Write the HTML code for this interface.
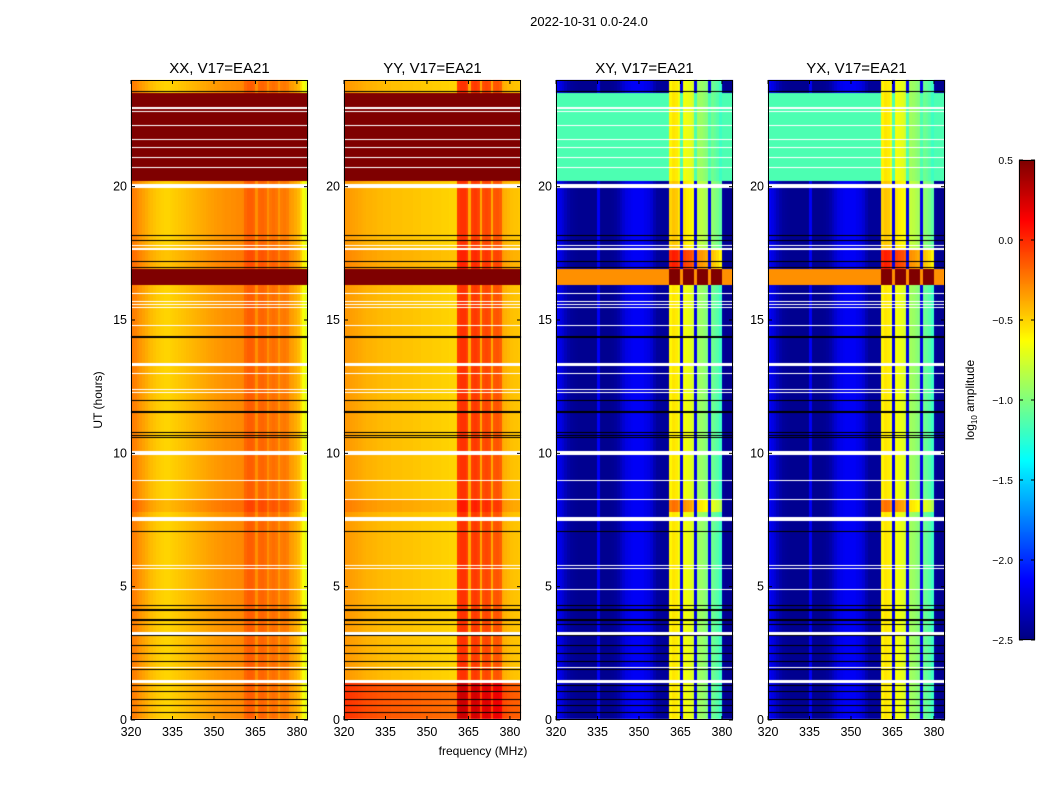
<!DOCTYPE html>
<html><head><meta charset="utf-8">
<style>
body{margin:0;background:#fff;width:1050px;height:800px;overflow:hidden;position:relative;font-family:"Liberation Sans","DejaVu Sans",sans-serif;}
canvas{position:absolute;}
svg{position:absolute;left:0;top:0;}
</style></head>
<body>
<canvas id="cv" width="1050" height="800" style="left:0;top:0"></canvas>
<svg id="ov" width="1050" height="800"></svg>
<script>
// ---- data arrays ----
const panelTitles = ["XX, V17=EA21","YY, V17=EA21","XY, V17=EA21","YX, V17=EA21"];
const xTicks = [320,335,350,365,380];
const yTicks = [0,5,10,15,20];
const cbTicks = [0.5,0.0,-0.5,-1.0,-1.5,-2.0,-2.5];
// frequency profiles (log10 amplitude), 1 MHz channels from 320 to 383
const xxFreq = [-0.24,-0.26,-0.29,-0.32,-0.35,-0.38,-0.41,-0.43,-0.45,-0.47,-0.48,-0.49,-0.5,-0.5,-0.49,-0.48,-0.47,-0.46,-0.45,-0.44,-0.43,-0.42,-0.41,-0.4,-0.39,-0.38,-0.37,-0.36,-0.35,-0.34,-0.33,-0.32,-0.32,-0.31,-0.3,-0.3,-0.29,-0.29,-0.28,-0.28,-0.27,-0.18,-0.15,-0.15,-0.17,-0.3,-0.18,-0.17,-0.19,-0.3,-0.22,-0.2,-0.22,-0.32,-0.24,-0.23,-0.25,-0.32,-0.34,-0.38,-0.42,-0.52,-0.64,-0.72];
const yyFreq = [-0.32,-0.33,-0.34,-0.35,-0.36,-0.37,-0.38,-0.39,-0.4,-0.4,-0.41,-0.41,-0.42,-0.42,-0.43,-0.43,-0.43,-0.44,-0.44,-0.44,-0.44,-0.45,-0.45,-0.45,-0.45,-0.46,-0.46,-0.46,-0.47,-0.47,-0.47,-0.47,-0.48,-0.48,-0.48,-0.49,-0.49,-0.49,-0.5,-0.5,-0.5,-0.05,-0.02,-0.02,-0.06,-0.38,-0.06,-0.04,-0.07,-0.38,-0.1,-0.08,-0.1,-0.38,-0.13,-0.12,-0.15,-0.38,-0.4,-0.42,-0.44,-0.45,-0.45,-0.46];
const crossFreq = [-2.15,-2.2,-2.25,-2.32,-2.38,-2.42,-2.43,-2.44,-2.45,-2.45,-2.45,-2.45,-2.45,-2.45,-2.45,-2.15,-2.45,-2.45,-2.45,-2.45,-2.44,-2.42,-2.38,-2.32,-2.26,-2.2,-2.18,-2.16,-2.15,-2.15,-2.15,-2.15,-2.18,-2.2,-2.25,-2.35,-2.42,-2.42,-2.42,-2.42,-2.42,-0.6,-0.55,-0.57,-0.65,-2.2,-0.65,-0.68,-0.7,-0.75,-2.2,-0.9,-0.92,-0.95,-0.98,-2.2,-1.05,-1.08,-1.12,-1.2,-2.42,-2.45,-2.45,-2.45];
// time segments
const timeSegStart = [0,1.5,7.8,8.3,16.3,16.9,17.7,20.2,23.5];
const timeSegEnd   = [1.5,7.8,8.3,16.3,16.9,17.7,20.2,23.5,24];
const parOffset    = [0.0,0.0,0.08,0.0,1.5,0.05,0.0,1.5,0.0];
const yyEarly      = [0.3,0.0,0.0,0.0,0.0,0.0,0.0,0.0,0.0];
const crossOffset  = [0.0,0.0,0.35,0.0,2.0,0.6,0.1,0.0,0.0];
const crossBg      = [-9,-9,-9,-9,-0.3,-9,-9,-1.15,-9];
const whiteRows = [23.0,22.85,22.3,21.8,21.5,21.1,20.75,20.1,17.8,17.7,16.0,15.7,15.6,15.5,14.8,13.4,13.0,12.4,12.3,10.1,9.0,8.3,7.6,7.5,5.8,5.7,4.9,3.3,2.0,1.5,0.05];
const whiteThick = [1,0,0,0,0,0,0,3,0,1,0,0,0,0,0,2,0,0,0,3,0,0,2,0,0,0,0,2,0,2,0];
const blackRows = [23.6,18.2,18.0,17.2,17.0,14.4,12.0,11.6,10.8,10.7,10.6,7.1,4.3,4.15,3.8,3.6,3.2,2.8,2.5,2.2,1.9,1.3,1.1,0.8,0.55,0.3];
const blackThick = [1,1,1,1,1,2,1,2,1,1,1,1,1,2,2,1,1,1,1,1,1,1,1,1,1,1];

// ---- geometry ----
const panelLeft=[131,344,556,768], PW=177, PT=80, PB=720;
const F0=320, F1=384, H0=0, H1=24;
const xs=(f,p)=>panelLeft[p]+(f-F0)/(F1-F0)*PW;
const ys=h=>PB-(h-H0)/(H1-H0)*(PB-PT);
const VMIN=-2.5,VMAX=0.5;
function jet(v){let t=(v-VMIN)/(VMAX-VMIN);t=Math.max(0,Math.min(1,t));
 const c=x=>Math.max(0,Math.min(1,x));
 const r=c(1.5-Math.abs(4*t-3)),g=c(1.5-Math.abs(4*t-2)),b=c(1.5-Math.abs(4*t-1));
 return [r*255|0,g*255|0,b*255|0];}
function seg(h){for(let i=0;i<timeSegStart.length;i++)if(h>=timeSegStart[i]&&h<timeSegEnd[i])return i;return timeSegStart.length-1;}

const cv=document.getElementById('cv'),ctx=cv.getContext('2d');
const img=ctx.createImageData(1050,800);
for(let p=0;p<4;p++){
 for(let py=PT;py<PB;py++){
  const h=H1-(py-PT+0.5)/(PB-PT)*(H1-H0); const s=seg(h);
  for(let px=panelLeft[p];px<panelLeft[p]+PW;px++){
   const f=F0+(px-panelLeft[p]+0.5)/PW*(F1-F0); const ch=Math.min(63,Math.floor(f-F0));
   let v;
   if(p<2){const base=p==0?xxFreq[ch]:yyFreq[ch]; v=base+parOffset[s]+(p==1?yyEarly[s]:0);}
   else{const base=crossFreq[ch]; const inBand=base>-1.5;
     if(inBand) v=base+crossOffset[s]; else v=Math.max(base,crossBg[s]);
     if(crossBg[s]>-2&&!inBand&&s==4) v=crossBg[s];}
   const [r,g,b]=jet(v); const k=(py*1050+px)*4;
   img.data[k]=r;img.data[k+1]=g;img.data[k+2]=b;img.data[k+3]=255;}
 }}
ctx.putImageData(img,0,0);
for(let p=0;p<4;p++){
 ctx.fillStyle='#fff';
 whiteRows.forEach((h,i)=>{ctx.fillRect(panelLeft[p],Math.round(ys(h)),PW,1+whiteThick[i]);});
 ctx.fillStyle='#000';
 blackRows.forEach((h,i)=>{ctx.fillRect(panelLeft[p],Math.round(ys(h)),PW,blackThick[i]);});
}
for(let y=160;y<640;y++){const v=VMAX-(y-160)/480*(VMAX-VMIN);const [r,g,b]=jet(v);ctx.fillStyle=`rgb(${r},${g},${b})`;ctx.fillRect(1019,y,16,1);}

// ---- overlay ----
const NS='http://www.w3.org/2000/svg',ov=document.getElementById('ov');
function el(tag,attrs,parent){const e=document.createElementNS(NS,tag);for(const k in attrs)e.setAttribute(k,attrs[k]);(parent||ov).appendChild(e);return e;}
function txt(x,y,s,anchor,size,parent){const t=el('text',{x:x,y:y,'text-anchor':anchor,'font-size':size,fill:'#000','font-family':'Liberation Sans, DejaVu Sans, sans-serif'},parent);t.textContent=s;return t;}
const title=txt(589,26,"2022-10-31 0.0-24.0","middle",13);


for(let p=0;p<4;p++){
 const g=el('g',{});
 
 
 el('rect',{x:panelLeft[p]+0.5,y:PT+0.5,width:PW-1,height:PB-PT-1,fill:'none',stroke:'#000','stroke-width':1},g);
 const t=txt(panelLeft[p]+PW/2,73,panelTitles[p],"middle",15,g);
 
 
 xTicks.forEach(f=>{const x=xs(f,p);
  el('line',{x1:x,x2:x,y1:PB,y2:PB-4,stroke:'#000'},g);el('line',{x1:x,x2:x,y1:PT,y2:PT+4,stroke:'#000'},g);
  const l=txt(x,736,String(f),"middle",12.5,g);
  
  });
 yTicks.forEach(h=>{const y=ys(h);
  el('line',{x1:panelLeft[p],x2:panelLeft[p]+4,y1:y,y2:y,stroke:'#000'},g);el('line',{x1:panelLeft[p]+PW,x2:panelLeft[p]+PW-4,y1:y,y2:y,stroke:'#000'},g);
  const l=txt(panelLeft[p]-4,y+4,String(h),"end",12.5,g);
  
  });
}
const yl=txt(0,0,"UT (hours)","middle",12);
yl.setAttribute('transform','translate(102,400) rotate(-90)');


const xl=txt(483,755,"frequency (MHz)","middle",12);


const cb=el('g',{});


el('rect',{x:1019.5,y:160.5,width:15,height:479,fill:'none',stroke:'#000'},cb);
cbTicks.forEach(v=>{const y=160+(VMAX-v)/(VMAX-VMIN)*480;
 el('line',{x1:1019,x2:1023,y1:y,y2:y,stroke:'#000'},cb);el('line',{x1:1035,x2:1031,y1:y,y2:y,stroke:'#000'},cb);
 const l=txt(1013,y+4,(v<0?'\u2212':'')+Math.abs(v).toFixed(1),"end",10.5,cb);
 
 });
const cl=el('text',{transform:'translate(974,400) rotate(-90)','text-anchor':'middle','font-size':12,'font-family':'Liberation Sans, sans-serif'},cb);
cl.innerHTML='log<tspan font-size="8" dy="3">10</tspan><tspan dy="-3"> amplitude</tspan>';


</script>
</body></html>
